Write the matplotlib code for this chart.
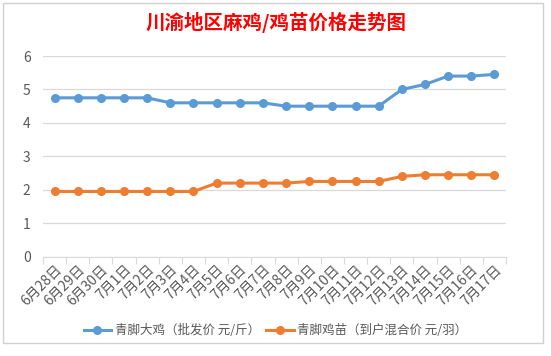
# -*- coding: utf-8 -*-

import numpy as np
import matplotlib.pyplot as plt
from matplotlib.patches import Rectangle

plt.rcParams['font.family'] = ['Noto Sans CJK SC', 'DejaVu Sans']

# 数据
dates = ['6月28日', '6月29日', '6月30日', '7月1日', '7月2日', '7月3日', '7月4日',
         '7月5日', '7月6日', '7月7日', '7月8日', '7月9日', '7月10日', '7月11日',
         '7月12日', '7月13日', '7月14日', '7月15日', '7月16日', '7月17日']
big_chicken = [4.75, 4.75, 4.75, 4.75, 4.75, 4.6, 4.6, 4.6, 4.6, 4.6,
               4.5, 4.5, 4.5, 4.5, 4.5, 5.0, 5.15, 5.4, 5.4, 5.45]
chick = [1.95, 1.95, 1.95, 1.95, 1.95, 1.95, 1.95, 2.2, 2.2, 2.2,
         2.2, 2.25, 2.25, 2.25, 2.25, 2.4, 2.45, 2.45, 2.45, 2.45]
label_big = '青脚大鸡（批发价 元/斤）'
label_chick = '青脚鸡苗（到户混合价 元/羽）'
title = '川渝地区麻鸡/鸡苗价格走势图'

blue = '#5B9BD5'
orange = '#ED7D31'
grid_c = '#D9D9D9'
text_c = '#595959'

W, H = 551, 356
fig = plt.figure(figsize=(W / 100, H / 100), dpi=100)

# 图表外框
fig.patches.append(Rectangle((3 / W, 1 - 343 / H), 540 / W, 340 / H,
                             transform=fig.transFigure, fill=False,
                             edgecolor='#D0D0D0', linewidth=1))

ax = fig.add_axes([43 / W, 1 - 256.7 / H, 463 / W, 200.7 / H])
x = np.arange(len(dates))
ax.plot(x, big_chicken, color=blue, lw=2.2, marker='o', ms=5.5, label=label_big)
ax.plot(x, chick, color=orange, lw=2.2, marker='o', ms=5.5, label=label_chick)

ax.set_xlim(-0.5, len(dates) - 0.5)
ax.set_ylim(0, 6)
ax.set_yticks(range(7))
ax.yaxis.grid(True, color=grid_c, lw=0.9)
ax.set_axisbelow(True)
for s in ['top', 'right', 'left']:
    ax.spines[s].set_visible(False)
ax.spines['bottom'].set_color(grid_c)
ax.tick_params(axis='y', length=0, labelsize=10, colors=text_c, pad=9)

# 分类轴刻度在分类之间
ax.set_xticks(np.arange(-0.5, len(dates), 1.0))
ax.set_xticklabels([])
ax.set_xticks(x, minor=True)
ax.set_xticklabels(dates, minor=True, rotation=45, ha='right',
                   rotation_mode='anchor', fontsize=10, color=text_c)
ax.tick_params(axis='x', which='major', length=5, color=grid_c)
ax.tick_params(axis='x', which='minor', length=0, pad=4)

fig.text(0.5, 1 - 22 / H, title, color='red', fontsize=14, fontweight='bold',
         ha='center', va='center')

fig.legend(loc='center', bbox_to_anchor=(0.5, 1 - 331 / H), ncol=2, frameon=False,
           fontsize=9, labelcolor=text_c, handlelength=2.2, columnspacing=0.5,
           handletextpad=0.3)

fig.savefig('out.png', dpi=100)
